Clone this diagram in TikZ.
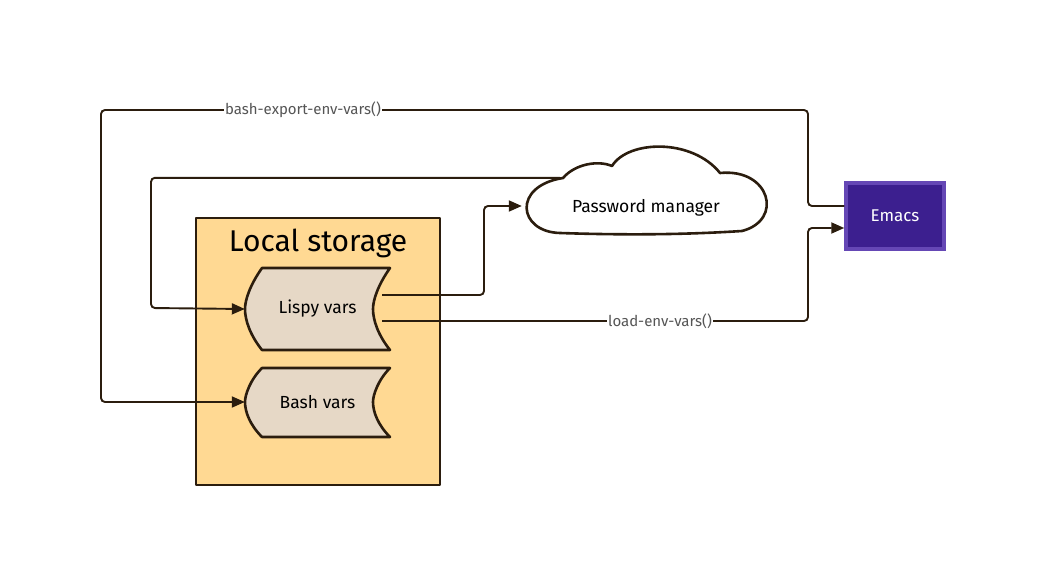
\documentclass[tikz,border=0pt]{standalone}
\usepackage{fontspec}
\setmainfont{Fira Sans}
\usetikzlibrary{arrows.meta,calc}
\definecolor{ink}{HTML}{2B1D0E}
\definecolor{lsfill}{HTML}{FFD993}
\definecolor{tapefill}{HTML}{E6D8C6}
\definecolor{emfill}{HTML}{3C1F8F}
\definecolor{emline}{HTML}{6547B5}
\definecolor{lblgray}{HTML}{555555}
\tikzset{
  shapeline/.style={draw=ink, line width=2.6pt, line join=round},
  conn/.style={draw=ink, line width=1.9pt, rounded corners=4pt, -{Triangle[length=13pt,width=11pt]}},
  nodetext/.style={font=\fontsize{17.5}{20}\selectfont, text=black},
  lbl/.style={font=\fontsize{15}{17}\selectfont, text=lblgray, fill=white, inner sep=1pt},
}
\begin{document}
\begin{tikzpicture}[x=1pt,y=-1pt]
\useasboundingbox (0,0) rectangle (1046,586);
% Local storage container
\node[shapeline, fill=lsfill, minimum width=244pt, minimum height=267pt, inner sep=0pt] (ls) at (318,351.5) {};
\node[font=\fontsize{30}{34}\selectfont, text=black] (lstitle) at (318,243) {Local storage};
% Lispy vars
\path[shapeline, fill=tapefill] (262,268) -- (390,268)
  .. controls (378,285) and (373,300) .. (373,309)
  .. controls (373,320) and (378,335) .. (390,350)
  -- (262,350)
  .. controls (250,335) and (245,320) .. (245,309)
  .. controls (245,300) and (250,285) .. (262,268) -- cycle;
\node[nodetext, minimum width=145pt, minimum height=82pt] (lispy) at (317.5,309) {Lispy vars};
% Bash vars
\path[shapeline, fill=tapefill] (262,368) -- (390,368)
  .. controls (378,380) and (373,395) .. (373,402)
  .. controls (373,412) and (378,425) .. (390,437)
  -- (262,437)
  .. controls (250,425) and (245,412) .. (245,402)
  .. controls (245,395) and (250,380) .. (262,368) -- cycle;
\node[nodetext, minimum width=145pt, minimum height=69pt] (bash) at (317.5,402) {Bash vars};
% Cloud
\path[shapeline, fill=white] (563,178)
  .. controls (575,164) and (598,160) .. (612,166)
  .. controls (628,140) and (692,138) .. (720,173)
  .. controls (770,168) and (784,220) .. (742,231)
  .. controls (680,235) and (620,235) .. (560,233)
  .. controls (518,232) and (512,186) .. (563,178) -- cycle;
\node[nodetext, minimum width=248pt, minimum height=56pt] (pm) at (646,208) {Password manager};
% Emacs
\node[draw=emline, line width=3.5pt, fill=emfill, minimum width=98pt, minimum height=66pt, font=\fontsize{17}{19}\selectfont, text=white] (em) at (895,216) {Emacs};
% Connectors
\draw[conn] ($(em.west)+(0,-10)$) -| (808,110) -| (101,402) -- (bash.west);
\node[lbl] (lbl1) at (303,110) {bash-export-env-vars()};
\draw[conn] ($(pm.north west)+(38,-2)$) -| (151,308) -- (lispy.west);
\draw[conn] ($(lispy.east)+(-8,-14)$) -| (484,206) -- ($(pm.west)+(0,-2)$);
\draw[conn] ($(lispy.east)+(-8,12)$) -| (808,228) -- ($(em.west)+(0,12)$);
\node[lbl] (lbl2) at (660,321) {load-env-vars()};
\end{tikzpicture}
\end{document}
